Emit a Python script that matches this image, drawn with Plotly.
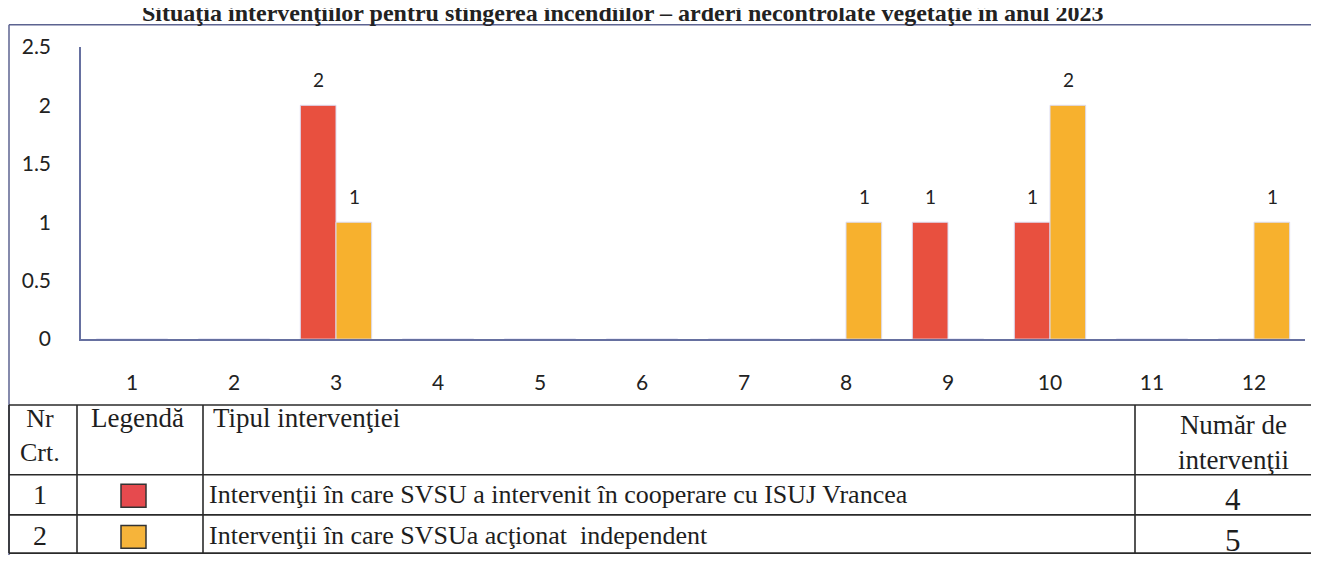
import plotly.graph_objects as go

# page body has an 8px margin; the figure is sized so that it fills the 1319x566 window
OFF = 8
W, H = 1319 - OFF, 566 - OFF

# ---- data ----
months = ["1", "2", "3", "4", "5", "6", "7", "8", "9", "10", "11", "12"]
coop_isuj = [0, 0, 2, 0, 0, 0, 0, 0, 1, 1, 0, 0]      # red series
independent = [0, 0, 1, 0, 0, 0, 0, 1, 0, 2, 0, 1]    # orange series
y_ticks = [0, 0.5, 1, 1.5, 2, 2.5]
y_tick_text = ["0", "0.5", "1", "1.5", "2", "2.5"]

title_text = "Situaţia intervenţiilor pentru stingerea incendiilor – arderi necontrolate vegetaţie în anul 2023"
table_header = ["Nr<br>Crt.", "Legendă", "Tipul intervenţiei", "Număr de<br>intervenţii"]
row_nr = ["1", "2"]
row_types = ["Intervenţii în care SVSU a intervenit în cooperare cu ISUJ Vrancea",
             "Intervenţii în care SVSUa acţionat  independent"]
row_counts = ["4", "5"]

RED = "#E8503F"
ORANGE = "#F7B12E"
AXIS = "#6670A0"
LINE = "#2a2a2a"
SANS = "Lato, Open Sans, sans-serif"
SERIF = "Liberation Serif, Times New Roman, serif"

def px(x):
    return (x - OFF) / W

def py(y):
    return 1 - (y - OFF) / H

fig = go.Figure()
fig.add_trace(go.Bar(x=months, y=coop_isuj, marker=dict(color=RED, line=dict(color="#dcdcf2", width=1)),
                     name=row_types[0], showlegend=False))
fig.add_trace(go.Bar(x=months, y=independent, marker=dict(color=ORANGE, line=dict(color="#dcdcf2", width=1)),
                     name=row_types[1], showlegend=False))

annotations = []
# data labels (only non-zero values); x given as category index
for series, shift in ((coop_isuj, -18), (independent, 18)):
    for i, v in enumerate(series):
        if v:
            annotations.append(dict(x=i, y=v, xref="x", yref="y", text=str(v), showarrow=False,
                                    xshift=shift, yshift=26, yanchor="middle",
                                    font=dict(family=SANS, size=19, color="#222")))

# title, cut off by the top edge as in the scanned page
annotations.append(dict(x=px(622), y=py(13), xref="paper", yref="paper", text="<b>" + title_text + "</b>",
                        showarrow=False, xanchor="center", yanchor="bottom", borderpad=0,
                        font=dict(family=SERIF, size=24, color="#222")))

serif = dict(family=SERIF, size=27, color="#1e1e1e")
# table header
annotations += [
    dict(x=px(40), y=py(441), text=table_header[0], xanchor="center", yanchor="middle",
         font=dict(serif, size=26)),
    dict(x=px(137), y=py(423), text=table_header[1], xanchor="center", yanchor="middle"),
    dict(x=px(211), y=py(423), text=table_header[2], xanchor="left", yanchor="middle"),
    dict(x=px(1233), y=py(448), text=table_header[3], xanchor="center", yanchor="middle"),
]
row_y = [503, 546]
for nr, t, c, yy in zip(row_nr, row_types, row_counts, row_y):
    annotations += [
        dict(x=px(40), y=py(yy), text=nr, xanchor="center", yanchor="middle", font=dict(serif, size=28)),
        dict(x=px(207), y=py(yy), text=t, xanchor="left", yanchor="middle", font=dict(serif, size=26)),
        dict(x=px(1233), y=py(yy + 5), text=c, xanchor="center", yanchor="middle", font=dict(serif, size=31)),
    ]
for a in annotations:
    a.setdefault("xref", "paper")
    a.setdefault("yref", "paper")
    a.setdefault("showarrow", False)
    a.setdefault("font", serif)

shapes = []
# outer frame of the chart
shapes.append(dict(type="line", xref="paper", yref="paper", x0=px(9), x1=px(1319), y0=py(11), y1=py(11),
                   line=dict(color="#5c6390", width=1.5)))
shapes.append(dict(type="line", xref="paper", yref="paper", x0=px(9), x1=px(9), y0=py(11), y1=py(566),
                   line=dict(color="#5c6390", width=1.5)))
# table grid
for yy in (409, 482, 524, 564):
    shapes.append(dict(type="line", xref="paper", yref="paper", x0=px(9), x1=px(1319), y0=py(yy), y1=py(yy),
                       line=dict(color=LINE, width=1.6)))
for xx in (9, 77, 203, 1135):
    shapes.append(dict(type="line", xref="paper", yref="paper", x0=px(xx), x1=px(xx), y0=py(409), y1=py(564),
                       line=dict(color=LINE, width=1.6)))
# legend squares
for yy, col in zip((504, 547), ("#E64A4E", "#F6B43A")):
    shapes.append(dict(type="rect", xref="paper", yref="paper", x0=px(121), x1=px(146), y0=py(yy - 12), y1=py(yy + 12),
                       fillcolor=col, line=dict(color="#333", width=1.5)))

fig.update_layout(
    width=W, height=H,
    margin=dict(l=0, r=0, t=0, b=0),
    paper_bgcolor="white", plot_bgcolor="white",
    barmode="group", bargap=0.30, bargroupgap=0,
    annotations=annotations, shapes=shapes,
    showlegend=False,
    xaxis=dict(domain=[px(81), px(1305)], type="category", showgrid=False, zeroline=False,
               showline=True, linecolor=AXIS, linewidth=1.5, ticks="", ticklabelstandoff=24,
               tickfont=dict(family=SANS, size=21, color="#222")),
    yaxis=dict(domain=[py(340), py(34)], range=[0, 2.5], tickvals=y_ticks, ticktext=y_tick_text,
               showgrid=False, zeroline=False, showline=True, linecolor=AXIS, linewidth=1.5,
               ticks="", ticklabelstandoff=24,
               tickfont=dict(family=SANS, size=21, color="#222")),
)

fig.write_html("out.html")
